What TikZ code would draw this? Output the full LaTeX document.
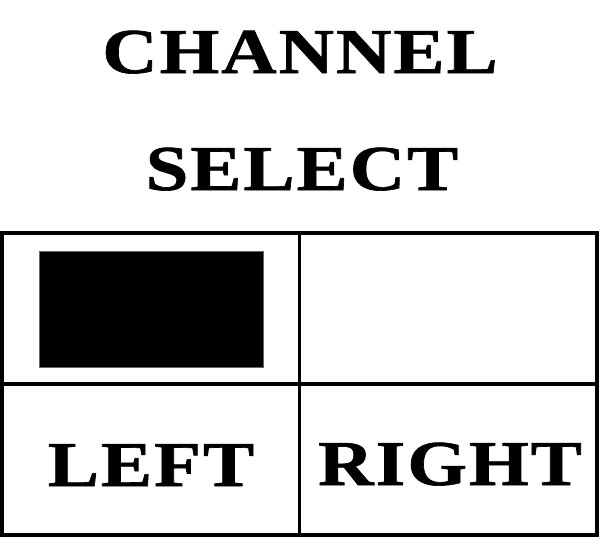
\documentclass[tikz,border=0pt]{standalone}
\usepackage{fontspec}
\newfontfamily\platefont{Liberation Serif}[FakeStretch=1.2, LetterSpace=3, FakeBold=1]
\usetikzlibrary{positioning}

\begin{document}
\begin{tikzpicture}[
    x=1pt, y=-1pt,
    platetext/.style={font=\platefont\bfseries\fontsize{64}{64}\selectfont, anchor=base, inner sep=0pt},
    panel/.style={draw, line width=3.5pt, inner sep=0pt, outer sep=0pt},
    lamp/.style={fill=black, draw=black!60, line width=0.6pt, inner sep=0pt,
        minimum width=224pt, minimum height=116pt}
]
\useasboundingbox (0,0) rectangle (601,539);

% Title
\node[platetext] (chan) at (300,73)  {CHANNEL};
\node[platetext] (sel)  at (302,190) {SELECT};

% Switch panel
\node[panel, minimum width=595pt, minimum height=302pt] (box) at (299.5,384) {};
\draw[line width=3.5pt] (box.north) -- (box.south);
\draw[line width=3.5pt] (box.west) -- (box.east);

% Indicator (left channel on)
\node[lamp] (lamp) at (151,309) {};

% Labels
\node[platetext] (left)  at (151,486) {LEFT};
\node[platetext] (right) at (450,485) {RIGHT};
\end{tikzpicture}
\end{document}
